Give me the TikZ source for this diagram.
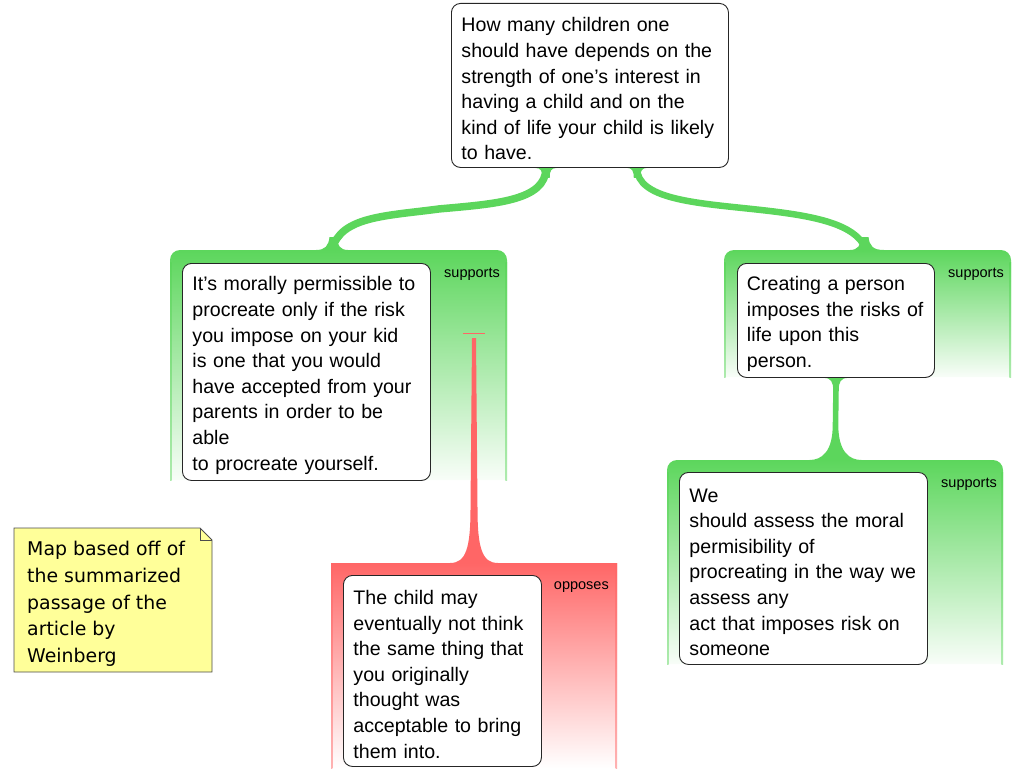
\documentclass[tikz,border=0pt]{standalone}
\usepackage{fontspec}
\setmainfont{Liberation Sans}
\newfontfamily\notefont{DejaVu Sans}
\usetikzlibrary{calc}
\definecolor{gGreen}{RGB}{92,214,92}
\definecolor{rRed}{RGB}{255,102,102}
\definecolor{noteYellow}{RGB}{255,255,153}
\pgfdeclarelayer{regions}
\pgfdeclarelayer{links}
\pgfsetlayers{regions,links,main}
\begin{document}
\begin{tikzpicture}[x=1pt,y=1pt,
  claim/.style={draw=black!85, fill=white, line width=0.9pt, rounded corners=9pt,
    anchor=north west, inner sep=0pt, align=left,
    font=\fontsize{19.6}{25.6}\selectfont,
    execute at begin node={\rule{0pt}{21pt}}},
  rel/.style={font=\fontsize{14.5}{16}\selectfont, anchor=east, inner sep=0pt},
  notetext/.style={font=\notefont\fontsize{18.9}{26.75}\selectfont, align=left,
    anchor=west, inner sep=0pt},
  greenregion/.style={top color=gGreen, bottom color=gGreen!4},
  redregion/.style={top color=rRed, bottom color=white},
  greenedge/.style={top color=gGreen, bottom color=gGreen!50},
  rededge/.style={top color=rRed, bottom color=rRed!50},
  supportlink/.style={draw=gGreen, line cap=butt},
]
\useasboundingbox (0,0) rectangle (1024,-768);

% ---------- claim boxes ----------
\node[claim, minimum width=277pt, minimum height=164pt, text width=257pt] (top) at (451,-3)
 {How many children one\\should have depends on the\\strength of one’s interest in\\having a child and on the\\kind of life your child is likely\\to have.};
\node[claim, minimum width=248pt, minimum height=217pt, text width=228pt] (left) at (182,-263)
 {It’s morally permissible to\\procreate only if the risk\\you impose on your kid\\is one that you would\\have accepted from your\\parents in order to be\\able\\to procreate yourself.};
\node[claim, minimum width=197pt, minimum height=114pt, text width=178pt] (right) at (737,-263)
 {Creating a person\\imposes the risks of\\life upon this\\person.};
\node[claim, minimum width=248pt, minimum height=192pt, text width=228pt] (lower) at (679,-472)
 {We\\should assess the moral\\permisibility of\\procreating in the way we\\assess any\\act that imposes risk on\\someone};
\node[claim, minimum width=198pt, minimum height=191pt, text width=178pt] (obj) at (343,-575)
 {The child may\\eventually not think\\the same thing that\\you originally\\thought was\\acceptable to bring\\them into.};

% ---------- relation labels ----------
\node[rel] (s1) at (500,-274) {supports};
\node[rel] (s2) at (1004,-274) {supports};
\node[rel] (s3) at (997,-484) {supports};
\node[rel] (o1) at (609,-587) {opposes};

% ---------- connector end points ----------
\coordinate (c1a) at ([xshift=95pt]top.south west);
\coordinate (c1b) at ([xshift=150pt,yshift=13pt]left.north west);
\coordinate (c2a) at ([xshift=186pt]top.south west);
\coordinate (c2b) at ([xshift=129pt,yshift=13pt]right.north west);
\coordinate (c3a) at (right.south);
\coordinate (c3b) at ([xshift=156.5pt,yshift=12pt]lower.north west);
\coordinate (c4a) at ([xshift=131pt,yshift=12pt]obj.north west);
\coordinate (c4b) at ([xshift=292pt,yshift=-70pt]left.north west);

% ---------- regions ----------
\begin{pgfonlayer}{regions}
\shade[greenregion] (170,-480) -- (170,-260) arc[start angle=180,end angle=90,radius=10]
  -- (497,-250) arc[start angle=90,end angle=0,radius=10] -- (507,-480) -- cycle;
\shade[greenedge] (170,-262) rectangle (171.6,-480);
\shade[greenedge] (505.4,-262) rectangle (507,-480);

\shade[greenregion] (724,-377) -- (724,-260) arc[start angle=180,end angle=90,radius=10]
  -- (1001,-250) arc[start angle=90,end angle=0,radius=10] -- (1011,-377) -- cycle;
\shade[greenedge] (724,-262) rectangle (725.6,-377);
\shade[greenedge] (1009.4,-262) rectangle (1011,-377);

\shade[greenregion] (667,-664) -- (667,-470) arc[start angle=180,end angle=90,radius=10]
  -- (993,-460) arc[start angle=90,end angle=0,radius=10] -- (1003,-664) -- cycle;
\shade[greenedge] (667,-472) rectangle (668.6,-664);
\shade[greenedge] (1001.4,-472) rectangle (1003,-664);

\shade[redregion] (331,-563) rectangle (617,-768);
\shade[rededge] (331,-563) rectangle (332.4,-768);
\shade[rededge] (615.6,-563) rectangle (617,-768);
\end{pgfonlayer}

% ---------- connectors ----------
\begin{pgfonlayer}{links}
% top claim -> left reason
\draw[supportlink, line width=7.5pt]
  (c1a) .. controls ($(c1a)+(0,-33)$) and ($(c1a)+(-51,-36)$) .. ($(c1a)!0.5!(c1b)$)
        .. controls ($(c1b)+(55,34)$) and ($(c1b)+(8,34)$) .. (c1b);
\fill[gGreen] ($(c1a)+(-11,0)$) .. controls ($(c1a)+(-5,0)$) and ($(c1a)+(-3.7,-3)$) .. ($(c1a)+(-3.7,-10)$)
  -- ($(c1a)+(3.7,-10)$) .. controls ($(c1a)+(3.7,-3)$) and ($(c1a)+(5,0)$) .. ($(c1a)+(11,0)$) -- cycle;
\fill[gGreen] ($(c1b)+(-16,0)$) .. controls ($(c1b)+(-7,0)$) and ($(c1b)+(-3.5,4)$) .. ($(c1b)+(-2.5,13)$)
  -- ($(c1b)+(5,13)$) .. controls ($(c1b)+(5,5)$) and ($(c1b)+(8,0)$) .. ($(c1b)+(16,0)$) -- cycle;
% top claim -> right reason
\draw[supportlink, line width=6.5pt]
  (c2a) .. controls ($(c2a)+(0,-31)$) and ($(c2a)+(58,-35)$) .. ($(c2a)!0.5!(c2b)$)
        .. controls ($(c2b)+(-58,35)$) and ($(c2b)+(-10,28)$) .. (c2b);
\fill[gGreen] ($(c2a)+(-10,0)$) .. controls ($(c2a)+(-5,0)$) and ($(c2a)+(-3.2,-3)$) .. ($(c2a)+(-3.2,-10)$)
  -- ($(c2a)+(3.2,-10)$) .. controls ($(c2a)+(3.2,-3)$) and ($(c2a)+(5,0)$) .. ($(c2a)+(10,0)$) -- cycle;
\fill[gGreen] ($(c2b)+(-16,0)$) .. controls ($(c2b)+(-8,0)$) and ($(c2b)+(-5,5)$) .. ($(c2b)+(-5,13)$)
  -- ($(c2b)+(2.5,13)$) .. controls ($(c2b)+(3.5,4)$) and ($(c2b)+(7,0)$) .. ($(c2b)+(18,0)$) -- cycle;
% right reason -> lower reason
\fill[gGreen] ($(c3a)+(-12,0)$) .. controls ($(c3a)+(-5,0)$) and ($(c3a)+(-2.8,-4)$) .. ($(c3a)+(-2.8,-12)$)
  -- ($(c3b)+(-2.8,35)$) .. controls ($(c3b)+(-2.8,8)$) and ($(c3b)+(-14,0)$) .. ($(c3b)+(-26,0)$)
  -- ($(c3b)+(26,0)$) .. controls ($(c3b)+(14,0)$) and ($(c3b)+(2.8,8)$) .. ($(c3b)+(2.8,35)$)
  -- ($(c3a)+(2.8,-12)$) .. controls ($(c3a)+(2.8,-4)$) and ($(c3a)+(5,0)$) .. ($(c3a)+(12,0)$) -- cycle;
% objection -> left reason
\fill[rRed] ($(c4b)+(-2,-5)$) -- ($(c4b)+(2,-5)$) -- ($(c4a)+(3.5,55)$)
  .. controls ($(c4a)+(3.5,15)$) and ($(c4a)+(8,0)$) .. ($(c4a)+(24,0)$)
  -- ($(c4a)+(-24,0)$) .. controls ($(c4a)+(-8,0)$) and ($(c4a)+(-3.5,15)$) .. ($(c4a)+(-3.5,55)$) -- cycle;
\draw[rRed, line width=1pt] ($(c4b)+(-11,0)$) -- ($(c4b)+(11,0)$);
\end{pgfonlayer}

% ---------- note ----------
\coordinate (nA) at (14,-528);
\coordinate (nB) at (200,-528);
\coordinate (nC) at (212,-540);
\coordinate (nD) at (212,-672);
\coordinate (nE) at (14,-672);
\coordinate (nF) at (200,-540);
\filldraw[fill=noteYellow, draw=black!70, line width=0.8pt] (nA) -- (nB) -- (nC) -- (nD) -- (nE) -- cycle;
\draw[black!70, line width=0.8pt] (nB) -- (nF) -- (nC);
\node[notetext] (note) at (27,-604)
 {Map based off of\\the summarized\\passage of the\\article by\\Weinberg};
\end{tikzpicture}
\end{document}
